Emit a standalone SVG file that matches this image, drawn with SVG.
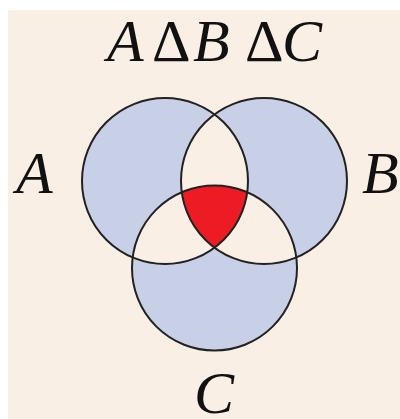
<svg xmlns="http://www.w3.org/2000/svg" width="400" height="419" viewBox="0 0 400 419">
<defs>
<clipPath id="cA"><circle cx="165" cy="181" r="83"/></clipPath>
<clipPath id="cB"><circle cx="264" cy="181" r="83"/></clipPath>
</defs>
<rect width="400" height="419" fill="#ffffff"/>
<rect x="8" y="10" width="392" height="409" fill="#f9efe5"/>
<g id="regions">
<path fill="#c8d0e8" fill-rule="evenodd" d="M82,181a83,83 0 1,0 166,0a83,83 0 1,0 -166,0Z M181,181a83,83 0 1,0 166,0a83,83 0 1,0 -166,0Z M132,268a82.5,82.5 0 1,0 165,0a82.5,82.5 0 1,0 -165,0Z"/>
<g clip-path="url(#cA)"><g clip-path="url(#cB)"><circle cx="214.5" cy="268" r="82.5" fill="#ed1c24"/></g></g>
</g>
<g fill="none" stroke="#222" stroke-width="2">
<circle id="circleA" cx="165" cy="181" r="83"/>
<circle id="circleB" cx="264" cy="181" r="83"/>
<circle id="circleC" cx="214.5" cy="268" r="82.5"/>
</g>
<g id="labels" font-family="Liberation Serif" font-style="italic" font-size="60" fill="#111">
<text id="A" x="16" y="193">A</text>
<text id="B" x="362" y="193">B</text>
<text id="C" x="194" y="413">C</text>
<text id="title" y="61"><tspan x="107">A</tspan><tspan font-style="normal" x="152">Δ</tspan><tspan x="193">B</tspan><tspan font-style="normal" x="245">Δ</tspan><tspan x="282">C</tspan></text>
</g>
</svg>
